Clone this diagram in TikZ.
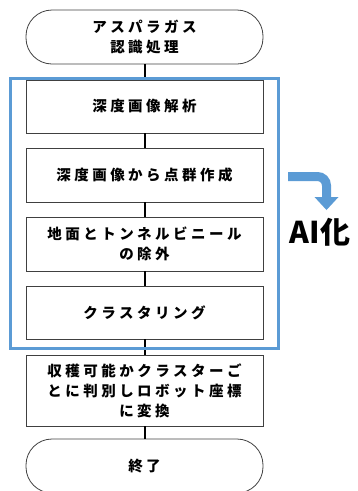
\documentclass[tikz,border=0pt]{standalone}
\usepackage{fontspec}
\newfontfamily\cjk{Noto Sans CJK JP}[LetterSpace=24]
\newfontfamily\cjkbig{Noto Sans CJK JP}
\definecolor{aiblue}{HTML}{5B9BD5}
\definecolor{boxline}{HTML}{404040}
\begin{document}
\begin{tikzpicture}[x=1pt,y=1pt,
  base/.style={draw=boxline, line width=0.8pt, minimum width=237pt, align=center,
    inner sep=0pt, font=\cjk\bfseries\fontsize{14.5}{20}\selectfont},
  procbox/.style={base, rectangle},
  termbox/.style={base, rectangle, rounded corners=26pt},
  link/.style={line width=2pt, black}]
\useasboundingbox (0,0) rectangle (358,-491);
\node[termbox, minimum height=54pt] (start) at (144.5,-37) {アスパラガス\\認識処理};
\node[procbox, minimum height=53pt] (b1) at (144.5,-106.5) {深度画像解析};
\node[procbox, minimum height=54pt] (b2) at (144.5,-175) {深度画像から点群作成};
\node[procbox, minimum height=54pt] (b3) at (144.5,-244) {地面とトンネルビニール\\の除外};
\node[procbox, minimum height=53pt] (b4) at (144.5,-312.5) {クラスタリング};
\node[procbox, minimum height=71pt] (b5) at (144.5,-390.5) {収穫可能かクラスターご\\とに判別しロボット座標\\に変換};
\node[termbox, minimum height=54pt] (end) at (144.5,-466) {終了};
\draw[link] (start) -- (b1);
\draw[link] (b1) -- (b2);
\draw[link] (b2) -- (b3);
\draw[link] (b3) -- (b4);
\draw[link] (b4) -- (b5);
\draw[link] (b5) -- (end);
\draw[aiblue, line width=3pt] (10,-78) rectangle (278,-348);
\draw[aiblue, line width=9pt, rounded corners=9pt] (288,-176.5) -- (326.5,-176.5) -- (326.5,-198);
\fill[aiblue] (314.5,-197) -- (338.5,-197) -- (326.5,-210) -- cycle;
\node[font=\cjkbig\bfseries\fontsize{30}{32}\selectfont, inner sep=0pt] (ai) at (320,-232) {AI化};
\end{tikzpicture}
\end{document}
